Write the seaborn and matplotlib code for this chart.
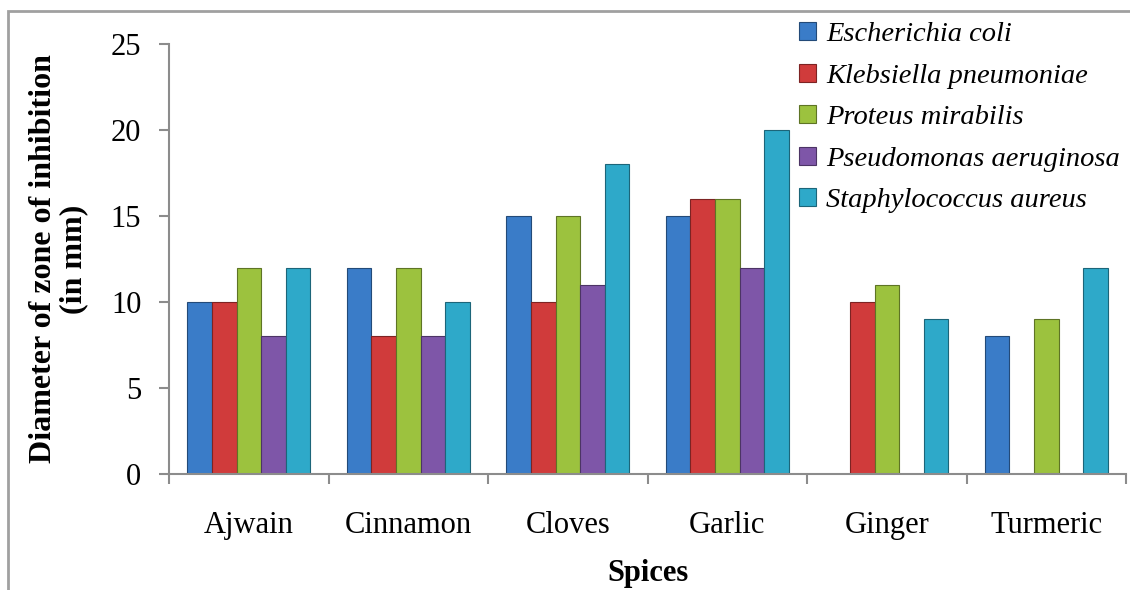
import numpy as np
import pandas as pd
import matplotlib.pyplot as plt
import matplotlib.colors as mcolors
from matplotlib.patches import Rectangle
import seaborn as sns

spices = ['Ajwain', 'Cinnamon', 'Cloves', 'Garlic', 'Ginger', 'Turmeric']
e_coli = [10, 12, 15, 15, np.nan, 8]
k_pneumoniae = [10, 8, 10, 16, 10, np.nan]
p_mirabilis = [12, 12, 15, 16, 11, 9]
p_aeruginosa = [8, 8, 11, 12, np.nan, np.nan]
s_aureus = [12, 10, 18, 20, 9, 12]

organisms = ['Escherichia coli', 'Klebsiella pneumoniae', 'Proteus mirabilis',
             'Pseudomonas aeruginosa', 'Staphylococcus aureus']
colors = ['#3a7cc8', '#d03b3b', '#9cc23e', '#7e56a8', '#2ea9c9']

df = pd.DataFrame({'Spice': spices, organisms[0]: e_coli, organisms[1]: k_pneumoniae,
                   organisms[2]: p_mirabilis, organisms[3]: p_aeruginosa,
                   organisms[4]: s_aureus})
long = df.melt(id_vars='Spice', var_name='Organism', value_name='Zone').dropna()

sns.set_style('white')
plt.rcParams['font.family'] = ['Liberation Serif', 'DejaVu Serif']
plt.rcParams['text.color'] = 'black'
plt.rcParams['axes.labelcolor'] = 'black'

fig = plt.figure(figsize=(11.3, 5.9), dpi=100)
ax = fig.add_axes([0.1496, 0.1966, 0.8469, 0.7288])

sns.barplot(data=long, x='Spice', y='Zone', hue='Organism', order=spices,
            hue_order=organisms, palette=colors, saturation=1, width=0.77,
            errorbar=None, ax=ax)

# darker edge to mimic the bevelled bars
for p in ax.patches:
    fc = np.array(mcolors.to_rgb(p.get_facecolor()))
    p.set_edgecolor(fc * 0.6)
    p.set_linewidth(0.8)

ax.set_ylim(0, 25)
ax.set_xlim(-0.5, 5.5)
ax.set_yticks([0, 5, 10, 15, 20, 25])
ax.set_xticks(range(len(spices)))
ax.set_xticklabels(spices)
ax.set_xticks(np.arange(-0.5, 6, 1), minor=True)

for s in ['top', 'right']:
    ax.spines[s].set_visible(False)
for s in ['left', 'bottom']:
    ax.spines[s].set_color('#8c8c8c')
    ax.spines[s].set_linewidth(1.5)

ax.tick_params(axis='y', which='major', left=True, length=7, width=1.5,
               color='#8c8c8c', labelcolor='black', labelsize=22, pad=13)
ax.tick_params(axis='x', which='major', bottom=False, labelsize=22, pad=23,
               labelcolor='black')
ax.tick_params(axis='x', which='minor', bottom=True, length=7, width=1.5,
               color='#8c8c8c')

ax.set_xlabel('Spices', fontsize=22, fontweight='bold', labelpad=14)
ax.set_ylabel('Diameter of zone of inhibition\n(in mm)', fontsize=23,
              fontweight='bold', linespacing=1.05)
ax.yaxis.set_label_coords(-0.0846, 0.5)

handles, labels = ax.get_legend_handles_labels()
for h in handles:
    fc = np.array(mcolors.to_rgb(h.get_facecolor()))
    h.set_edgecolor(fc * 0.6)
leg = ax.legend(handles, labels, loc='upper left',
                bbox_to_anchor=(799 / 1130, 1 - 22 / 590),
                bbox_transform=fig.transFigure, frameon=False,
                prop={'family': 'Liberation Serif', 'style': 'italic', 'size': 20.5},
                handlelength=0.6, handleheight=0.6, handletextpad=0.35,
                labelspacing=0.58, borderpad=0, borderaxespad=0)

# chart-area frame (cropped on the right and bottom)
fig.patches.append(Rectangle((8 / 1130, -0.1), 1.2, 1 - 11 / 590 + 0.1,
                             transform=fig.transFigure, fill=False,
                             edgecolor='#a0a0a0', linewidth=2))

fig.savefig('out.png', dpi=100)
